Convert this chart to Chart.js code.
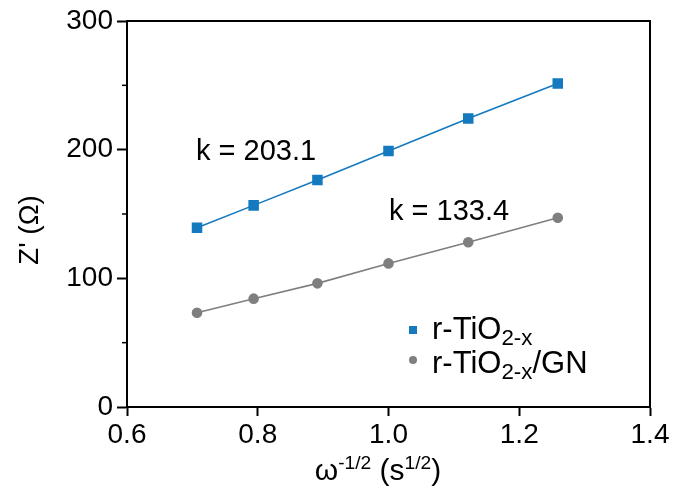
<!DOCTYPE html>
<html>
<head>
<meta charset="utf-8">
<script src="https://cdn.jsdelivr.net/npm/chart.js@4"></script>
<style>
  html, body { margin: 0; padding: 0; background: #fff; }
  #wrap { width: 673px; height: 497px; }
</style>
</head>
<body>
<div id="wrap"><canvas id="chart"></canvas></div>
<script>
/* eixo x: omega^-1/2 (s^1/2) */
const xVals = [0.7071, 0.7937, 0.8913, 1.0, 1.1220, 1.2589];
/* Z' (ohm) de cada amostra */
const zTiO2 = [139.3, 156.7, 176.4, 198.9, 224.3, 251.5];
const zTiO2GN = [73.3, 84.2, 96.1, 111.6, 128.0, 147.1];
const xTicks = [0.6, 0.8, 1.0, 1.2, 1.4];
const yTicks = [0, 100, 200, 300];
const yMinor = [50, 150, 250];
const slopes = ["k = 203.1", "k = 133.4"];

const FONT = '"Liberation Sans", Arial, Helvetica, sans-serif';
const BLUE = "#1479bf";
const GRAY = "#7f7f7f";

function pts(ys) { // junta x e y em pontos
  return xVals.map((x, i) => ({ x: x, y: ys[i] }));
}

/* texto com partes sub/superscritas */
function richText(ctx, parts, x, y, size) {
  let cx = x;
  for (const p of parts) {
    let s = size, dy = 0;
    if (p.sub) { s = size * 0.72; dy = size * 0.2; }
    if (p.sup) { s = size * 0.64; dy = -size * 0.38; }
    ctx.font = s + "px " + FONT;
    ctx.fillText(p.t, cx, y + dy);
    cx += ctx.measureText(p.t).width;
  }
  return cx - x;
}
function richWidth(ctx, parts, size) {
  let w = 0;
  for (const p of parts) {
    let s = size;
    if (p.sub) s = size * 0.72;
    if (p.sup) s = size * 0.64;
    ctx.font = s + "px " + FONT;
    w += ctx.measureText(p.t).width;
  }
  return w;
}

const extras = {
  id: "extras",
  afterDraw(chart) {
    const ctx = chart.ctx;
    const a = chart.chartArea;
    const ys = chart.scales.y;
    ctx.save();
    // moldura de cima e da direita
    ctx.strokeStyle = "#000";
    ctx.lineWidth = 2;
    ctx.beginPath();
    ctx.moveTo(a.left, a.top);
    ctx.lineTo(a.right, a.top);
    ctx.lineTo(a.right, a.bottom);
    ctx.stroke();
    // ticks menores no eixo y
    ctx.lineWidth = 1.5;
    for (const v of yMinor) {
      const py = ys.getPixelForValue(v);
      ctx.beginPath();
      ctx.moveTo(a.left - 5, py);
      ctx.lineTo(a.left, py);
      ctx.stroke();
    }
    ctx.fillStyle = "#000";
    ctx.textBaseline = "alphabetic";
    ctx.textAlign = "left";
    // valores de k
    ctx.font = "29px " + FONT;
    ctx.fillText(slopes[0], 196, 160);
    ctx.fillText(slopes[1], 389, 220);
    // legenda
    const lx = 413;
    ctx.fillStyle = BLUE;
    ctx.fillRect(lx - 4, 326, 8, 8);
    ctx.fillStyle = GRAY;
    ctx.beginPath();
    ctx.arc(lx, 360, 4, 0, Math.PI * 2);
    ctx.fill();
    ctx.fillStyle = "#000";
    richText(ctx, [{ t: "r-TiO" }, { t: "2-x", sub: true }], 432, 339, 31);
    richText(ctx, [{ t: "r-TiO" }, { t: "2-x", sub: true }, { t: "/GN" }], 432, 373, 31);
    // titulo do eixo x
    const xt = [{ t: "\u03c9" }, { t: "-1/2", sup: true }, { t: " (s" }, { t: "1/2", sup: true }, { t: ")" }];
    const w = richWidth(ctx, xt, 30);
    richText(ctx, xt, 378 - w / 2, 480, 30);
    // titulo do eixo y (rotacionado)
    ctx.translate(38, 230);
    ctx.rotate(-Math.PI / 2);
    ctx.textAlign = "center";
    ctx.font = "28px " + FONT;
    ctx.fillText("Z' (\u03a9)", 0, 0);
    ctx.restore();
  }
};

const config = {
  type: "scatter",
  data: {
    datasets: [
      {
        label: "r-TiO2-x",
        data: pts(zTiO2),
        showLine: true,
        borderColor: BLUE,
        backgroundColor: BLUE,
        borderWidth: 1.6,
        pointStyle: "rect",
        pointRadius: 6.3,
        pointHoverRadius: 6.3,
      },
      {
        label: "r-TiO2-x/GN",
        data: pts(zTiO2GN),
        showLine: true,
        borderColor: GRAY,
        backgroundColor: GRAY,
        borderWidth: 1.6,
        pointStyle: "circle",
        pointRadius: 4.5,
        pointHoverRadius: 4.5,
      },
    ],
  },
  options: {
    responsive: true,
    maintainAspectRatio: false,
    animation: false,
    layout: { padding: { top: 21, right: 23, left: 0, bottom: 0 } },
    plugins: { legend: { display: false }, tooltip: { enabled: false } },
    scales: {
      x: {
        type: "linear",
        min: 0.6,
        max: 1.4,
        afterBuildTicks: (s) => { s.ticks = xTicks.map((v) => ({ value: v })); },
        afterFit: (s) => { s.height = 90; },
        ticks: {
          color: "#000",
          font: { size: 28, family: FONT },
          padding: 2,
          callback: (v) => Number(v).toFixed(1),
          maxRotation: 0,
        },
        grid: { drawOnChartArea: false, tickLength: 9, tickWidth: 2, color: "#000" },
        border: { display: true, color: "#000", width: 2 },
      },
      y: {
        min: 0,
        max: 300,
        afterBuildTicks: (s) => { s.ticks = yTicks.map((v) => ({ value: v })); },
        afterFit: (s) => { s.width = 127; },
        ticks: {
          color: "#000",
          font: { size: 28, family: FONT },
          padding: 4,
        },
        grid: { drawOnChartArea: false, tickLength: 10, tickWidth: 2, color: "#000" },
        border: { display: true, color: "#000", width: 2 },
      },
    },
  },
  plugins: [extras],
};

let myChart = new Chart(document.getElementById("chart"), config);
</script>
</body>
</html>
